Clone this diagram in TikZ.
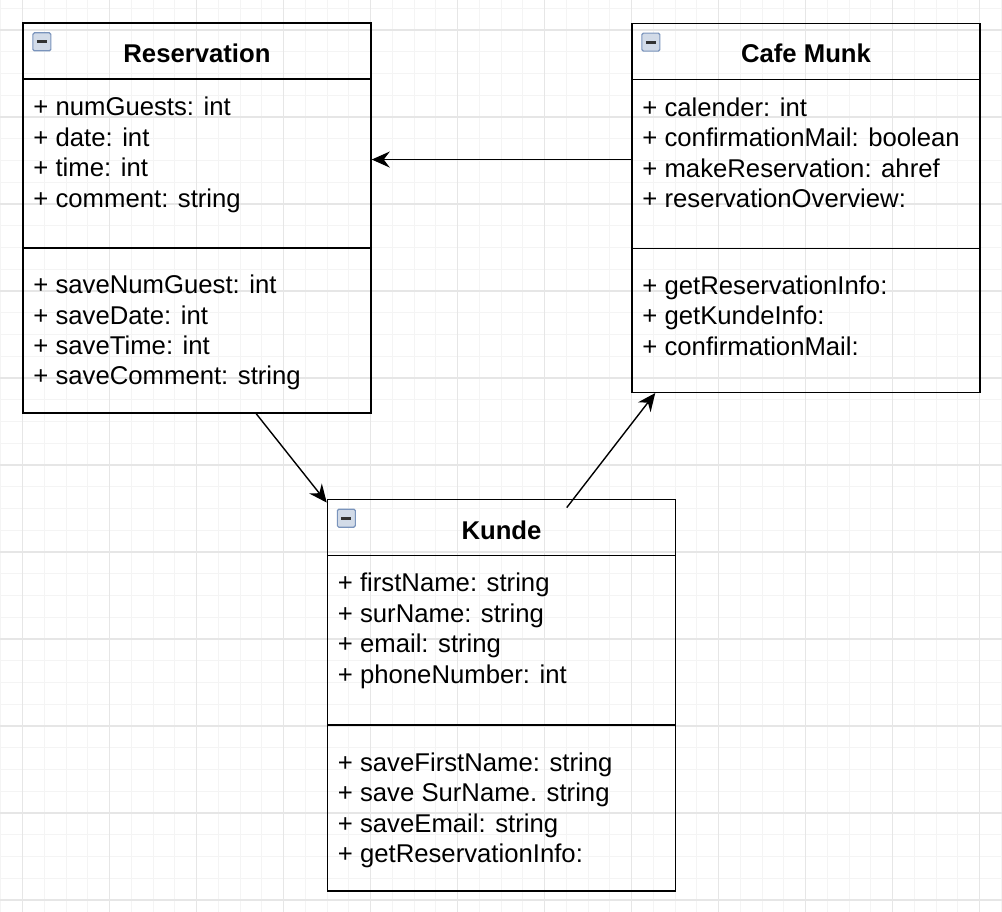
\documentclass[tikz,border=0pt]{standalone}
\usepackage{fontspec}
\setmainfont{Liberation Sans}
\usetikzlibrary{arrows.meta,calc}

\definecolor{gridlight}{RGB}{244,244,244}
\definecolor{griddark}{RGB}{230,230,230}
\definecolor{iconfill}{RGB}{210,219,232}
\definecolor{iconline}{RGB}{122,148,188}

\tikzset{
  classbox/.style={draw, line width=1.5pt, minimum width=348pt, inner sep=0pt},
  classname/.style={anchor=base, inner sep=0pt, font=\fontsize{25.7}{30}\selectfont\bfseries},
  member/.style={anchor=base west, inner sep=0pt, font=\fontsize{25.7}{30}\selectfont},
  minusbox/.style={draw=iconline, fill=iconfill, line width=1.2pt, rounded corners=1.5pt,
    minimum size=18pt, inner sep=0pt, anchor=north west,
    path picture={\draw[black!80, line width=2.8pt]
      ([xshift=4pt]path picture bounding box.west) -- ([xshift=-4pt]path picture bounding box.east);}},
  assoc/.style={-{Stealth[length=18pt,width=16pt,inset=6pt]}, line width=1.4pt},
  gridminor/.style={draw=gridlight, line width=1pt},
  gridmajor/.style={draw=griddark, line width=1.3pt}
}

\begin{document}
\begin{tikzpicture}[x=1pt, y=-1pt]
  \fill[white] (0,0) rectangle (1002,912);
  \useasboundingbox (0,0) rectangle (1002,912);

  \foreach \j in {-1,...,45}
    \draw[gridminor] ({22.7+21.75*\j},0) -- ({22.7+21.75*\j},912);
  \foreach \j in {-1,...,40}
    \draw[gridminor] (0,{30+21.75*\j}) -- (1002,{30+21.75*\j});
  \foreach \k in {0,...,11}
    \draw[gridmajor] ({22.7+87*\k},0) -- ({22.7+87*\k},912);
  \foreach \k in {0,...,10}
    \draw[gridmajor] (0,{30+87*\k}) -- (1002,{30+87*\k});

  % Reservation
  \node[classbox, minimum height=390pt] (res) at (197,218) {};
  \draw[line width=1.5pt] ([yshift=-57pt]res.north west) -- ([yshift=-57pt]res.north east);
  \draw[line width=1.5pt] ([yshift=-226pt]res.north west) -- ([yshift=-226pt]res.north east);
  \node[minusbox] (res-icon) at ([xshift=10pt,yshift=-10pt]res.north west) {};
  \node[classname] (res-name) at ([yshift=-40.3pt]res.north) {Reservation};
  \foreach \txt [count=\i] in {{+ numGuests: int},{+ date: int},{+ time: int},{+ comment: string}}
    \node[member] (res-a\i) at ([xshift=11pt,yshift={-93.5pt-30.6pt*(\i-1)}]res.north west) {\txt};
  \foreach \txt [count=\i] in {{+ saveNumGuest: int},{+ saveDate: int},{+ saveTime: int},{+ saveComment: string}}
    \node[member] (res-m\i) at ([xshift=11pt,yshift={-271.5pt-30.4pt*(\i-1)}]res.north west) {\txt};

  % Cafe Munk
  \node[classbox, minimum height=369pt] (cafe) at (806,207.8) {};
  \draw[line width=1.5pt] ([yshift=-57pt]cafe.north west) -- ([yshift=-57pt]cafe.north east);
  \draw[line width=1.5pt] ([yshift=-226pt]cafe.north west) -- ([yshift=-226pt]cafe.north east);
  \node[minusbox] (cafe-icon) at ([xshift=10pt,yshift=-10pt]cafe.north west) {};
  \node[classname] (cafe-name) at ([yshift=-40.3pt]cafe.north) {Cafe Munk};
  \foreach \txt [count=\i] in {{+ calender: int},{+ confirmationMail: boolean},{+ makeReservation: ahref},{+ reservationOverview:}}
    \node[member] (cafe-a\i) at ([xshift=11pt,yshift={-93.5pt-30.6pt*(\i-1)}]cafe.north west) {\txt};
  \foreach \txt [count=\i] in {{+ getReservationInfo:},{+ getKundeInfo:},{+ confirmationMail:}}
    \node[member] (cafe-m\i) at ([xshift=11pt,yshift={-271.5pt-30.6pt*(\i-1)}]cafe.north west) {\txt};

  % Kunde
  \node[classbox, minimum height=391.5pt] (kunde) at (501.5,695.1) {};
  \draw[line width=1.5pt] ([yshift=-57pt]kunde.north west) -- ([yshift=-57pt]kunde.north east);
  \draw[line width=1.5pt] ([yshift=-226.5pt]kunde.north west) -- ([yshift=-226.5pt]kunde.north east);
  \node[minusbox] (kunde-icon) at ([xshift=10pt,yshift=-10pt]kunde.north west) {};
  \node[classname] (kunde-name) at ([yshift=-40.5pt]kunde.north) {Kunde};
  \foreach \txt [count=\i] in {{+ firstName: string},{+ surName: string},{+ email: string},{+ phoneNumber: int}}
    \node[member] (kunde-a\i) at ([xshift=11pt,yshift={-93pt-30.6pt*(\i-1)}]kunde.north west) {\txt};
  \foreach \txt [count=\i] in {{+ saveFirstName: string},{+ save SurName. string},{+ saveEmail: string},{+ getReservationInfo:}}
    \node[member] (kunde-m\i) at ([xshift=11pt,yshift={-272.5pt-30.6pt*(\i-1)}]kunde.north west) {\txt};

  % associations
  \coordinate (cafe-out) at ([yshift=-137pt]cafe.north west);
  \draw[assoc] (cafe-out) -- (cafe-out -| res.east);
  \draw[assoc] ([xshift=234pt]res.south west) -- ([yshift=-4pt]kunde.north west);
  \draw[assoc] ([xshift=240pt,yshift=-9pt]kunde.north west) -- ([xshift=24pt]cafe.south west);
\end{tikzpicture}
\end{document}
